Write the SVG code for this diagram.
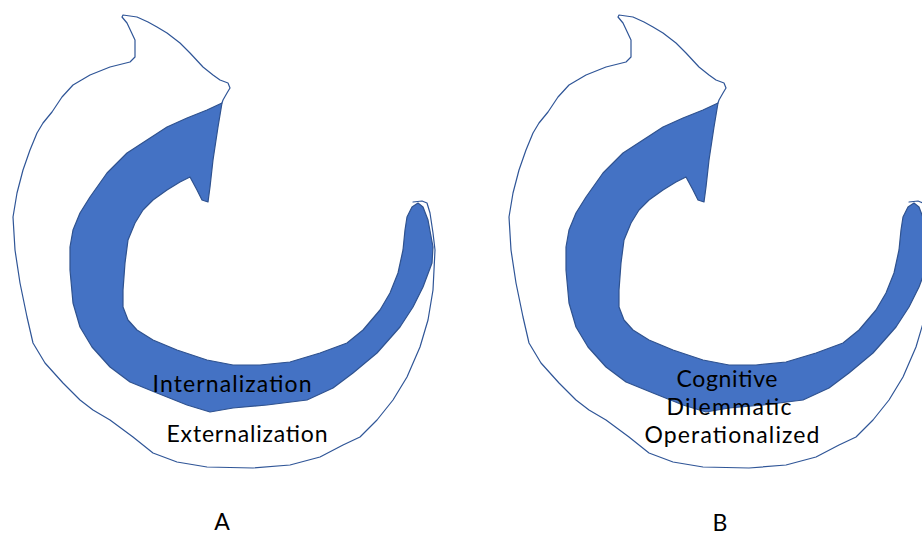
<svg xmlns="http://www.w3.org/2000/svg" xmlns:xlink="http://www.w3.org/1999/xlink" width="922" height="537" viewBox="0 0 922 537">
  <style>
    .outline { fill: none; stroke: #2F5597; stroke-width: 1.2; stroke-linejoin: round; stroke-linecap: round; }
    .band { fill: #4472C4; stroke: #2F528F; stroke-width: 1.2; stroke-linejoin: round; }
    .label { font-family: Lato, "Noto Sans", "DejaVu Sans", sans-serif; font-size: 23px; fill: #000; text-anchor: middle; }
  </style>
  <defs>
    <!-- hand-drawn cycle: open white arrow hugging a solid blue arrow -->
    <g id="cycle">
      <path class="outline" d="M222,103 L223,100 227,93 230,88 228,83 220,80 213,75 203,67 190,53 180,43 167,33 157,27 148,22 137,17 123,15 122,17 127,23 135,40 135,57 130,62 110,67 90,75 73,85 62,97 52,112 43,123 37,133 30,150 23,170 17,193 13,217 15,250 20,283 27,317 33,343 45,363 63,383 80,400 93,410 110,420 133,437 153,453 177,462 207,467 253,468 290,465 320,457 343,445 360,437 377,420 393,400 407,377 420,347 428,320 433,290 435,250 433,233 430,213 427,203 422,201 413,202"/>
      <path class="band" d="M222,103 L218,127 213,160 210,187 208,202 202,200 197,190 190,177 180,182 167,190 153,200 143,210 135,223 128,240 125,263 123,290 123,307 128,320 137,330 153,340 177,350 207,360 233,365 260,365 290,362 320,353 347,343 363,330 380,310 390,293 398,273 403,250 405,230 407,217 412,207 418,203 423,207 428,220 433,247 432,263 423,287 413,307 400,327 377,353 353,373 333,388 307,400 267,405 233,408 210,412 187,405 157,393 130,382 110,367 92,347 80,327 73,303 70,270 70,247 73,230 80,213 90,197 107,173 127,153 147,140 167,127 187,118 207,110 Z"/>
    </g>
  </defs>

  <g id="diagram-a">
    <use xlink:href="#cycle" href="#cycle"/>
    <text class="label" x="232" y="392" textLength="159" lengthAdjust="spacing">Internalization</text>
    <text class="label" x="247" y="442" textLength="161" lengthAdjust="spacing">Externalization</text>
    <text class="label" x="222" y="530">A</text>
  </g>

  <g id="diagram-b">
    <use xlink:href="#cycle" href="#cycle" transform="translate(496,0)"/>
    <text class="label" x="727" y="387" textLength="101" lengthAdjust="spacing">Cognitive</text>
    <text class="label" x="729" y="415" textLength="125" lengthAdjust="spacing">Dilemmatic</text>
    <text class="label" x="732" y="443" textLength="175" lengthAdjust="spacing">Operationalized</text>
    <text class="label" x="720" y="531">B</text>
  </g>
</svg>
